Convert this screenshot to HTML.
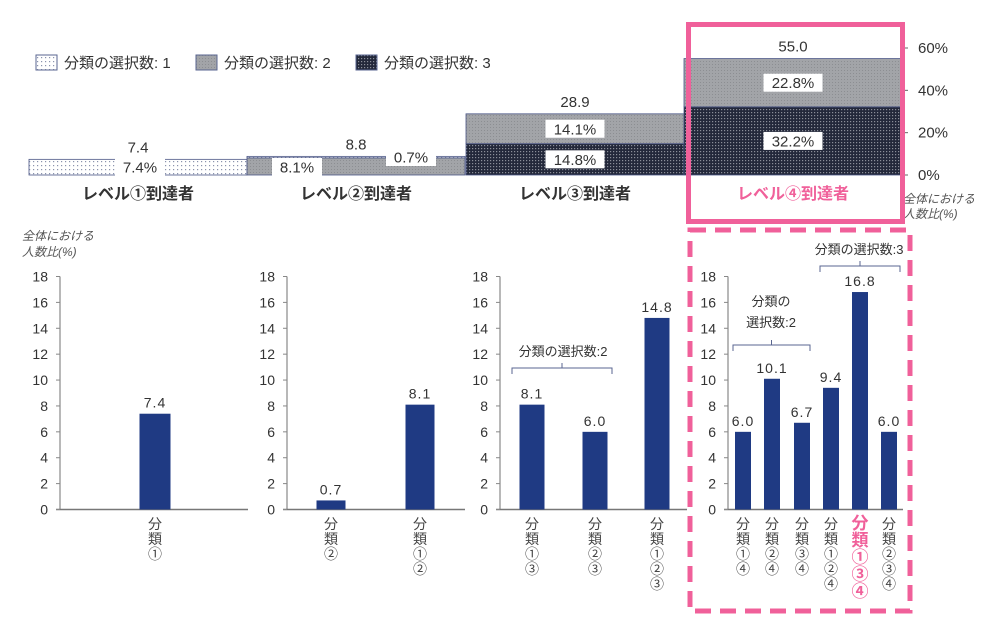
<!DOCTYPE html>
<html><head><meta charset="utf-8">
<style>
html,body{margin:0;padding:0;background:#fff;}
svg{display:block;font-family:"Liberation Sans","Noto Sans CJK JP",sans-serif;}
</style></head>
<body>
<svg id="c" width="989" height="643" viewBox="0 0 989 643" xmlns="http://www.w3.org/2000/svg">
<defs>
<pattern id="p1" width="4" height="4" patternUnits="userSpaceOnUse"><rect width="4" height="4" fill="#fff"/><rect x="1" y="1" width="1.2" height="1.2" fill="#8a93ad"/></pattern>
<pattern id="p2" width="3" height="3" patternUnits="userSpaceOnUse"><rect width="3" height="3" fill="#a2a4a8"/><rect x="1" y="1" width="1" height="1" fill="#8c8e92"/></pattern>
<pattern id="p3" width="3" height="3" patternUnits="userSpaceOnUse"><rect width="3" height="3" fill="#23283a"/><rect x="1" y="1" width="1.2" height="1.2" fill="#8a8e98"/></pattern>
</defs>
<g id="legend">
<rect x="36" y="55" width="21" height="15" fill="url(#p1)" stroke="#5a6690"/>
<text x="64" y="68" font-size="15" fill="#333">分類の選択数: 1</text>
<rect x="196" y="55" width="21" height="15" fill="url(#p2)" stroke="#5a6690"/>
<text x="224" y="68" font-size="15" fill="#333">分類の選択数: 2</text>
<rect x="356" y="55" width="21" height="15" fill="url(#p3)" stroke="#5a6690"/>
<text x="384" y="68" font-size="15" fill="#333">分類の選択数: 3</text>
</g>
<g id="top"></g>
<g id="bottom"></g>
<rect x="688.5" y="24.5" width="214" height="197" fill="none" stroke="#f0609a" stroke-width="5"/>
<rect x="690" y="230" width="220" height="381" fill="none" stroke="#f0609a" stroke-width="5" stroke-dasharray="16 9"/>
</svg>
<script>
const NS="http://www.w3.org/2000/svg";
function mk(parent,tag,attrs,text){const e=document.createElementNS(NS,tag);for(const k in attrs)e.setAttribute(k,attrs[k]);if(text!==undefined)e.textContent=text;parent.appendChild(e);return e;}

// ---- Top stacked chart data ----
const topLevels=["レベル①到達者","レベル②到達者","レベル③到達者","レベル④到達者"];
const topS1=[7.4,0.7,0,0];
const topS2=[0,8.1,14.1,22.8];
const topS3=[0,0,14.8,32.2];
const topTotals=["7.4","8.8","28.9","55.0"];
const topTicks=[0,20,40,60];

// ---- Bottom bar charts data ----
const p1Cats=[["分","類","①"]];const p1Vals=[7.4];
const p2Cats=[["分","類","②"],["分","類","①","②"]];const p2Vals=[0.7,8.1];
const p3Cats=[["分","類","①","③"],["分","類","②","③"],["分","類","①","②","③"]];const p3Vals=[8.1,6.0,14.8];
const p4Cats=[["分","類","①","④"],["分","類","②","④"],["分","類","③","④"],["分","類","①","②","④"],["分","類","①","③","④"],["分","類","②","③","④"]];
const p4Vals=[6.0,10.1,6.7,9.4,16.8,6.0];
const yTicks=[0,2,4,6,8,10,12,14,16,18];

// top chart
const T=document.getElementById('top');
const base=175,ppp=127/60;const ty=v=>base-v*ppp;
const colX=[29,247,466,684],colW=218;
const lbl=(x,y,t,name)=>{const w=t.length*9+14;mk(T,'rect',{x:x-w/2,y:y-9,width:w,height:18,fill:'#fff',});mk(T,'text',{x:x,y:y+5.5,'font-size':15,'text-anchor':'middle',fill:'#333',},t);};
for(let i=0;i<4;i++){
  const x=colX[i];let cum=0;
  const segs=[[topS3[i],'url(#p3)','s3'],[topS2[i],'url(#p2)','s2'],[topS1[i],'url(#p1)','s1']];
  const pos=[];
  segs.forEach(s=>{if(s[0]>0){const r=mk(T,'rect',{x:x,y:ty(cum+s[0]),width:colW,height:s[0]*ppp,fill:s[1],stroke:'#4a5585','stroke-width':0.8});
    
    
    pos.push([cum,s[0],s[2]]);}cum+=s[0];});
  mk(T,'text',{x:x+colW/2,y:ty(cum)-7,'font-size':15,'text-anchor':'middle',fill:'#333',},topTotals[i]);
  const t=mk(T,'text',{x:x+colW/2,y:199,'font-size':16,'font-weight':'bold','text-anchor':'middle',fill:i==3?'#f0609a':'#333'},topLevels[i]);
  
  
}
// percent labels
lbl(140,167,topS1[0].toFixed(1)+'%','pct-l1-s1');
lbl(297,167,topS2[1].toFixed(1)+'%','pct-l2-s2');
lbl(411,157,topS1[1].toFixed(1)+'%','pct-l2-s1');
lbl(575,ty(topS3[2]/2),topS3[2].toFixed(1)+'%','pct-l3-s3');
lbl(575,ty(topS3[2]+topS2[2]/2),topS2[2].toFixed(1)+'%','pct-l3-s2');
lbl(793,ty(topS3[3]/2),topS3[3].toFixed(1)+'%','pct-l4-s3');
lbl(793,ty(topS3[3]+topS2[3]/2),topS2[3].toFixed(1)+'%','pct-l4-s2');
mk(T,'line',{x1:903,y1:ty(60),x2:903,y2:base,stroke:'#666',});
topTicks.forEach(v=>{mk(T,'line',{x1:903,y1:ty(v),x2:908,y2:ty(v),stroke:'#666'});
  const e=mk(T,'text',{x:918,y:ty(v)+5,'font-size':15,fill:'#333'},v+'%');
  
  });
mk(T,'text',{x:903,y:203,'font-size':12,'font-style':'italic',fill:'#555',},'全体における');
mk(T,'text',{x:903,y:218,'font-size':12,'font-style':'italic',fill:'#555',},'人数比(%)');

// bottom charts
const B=document.getElementById('bottom');
const y0=509.5,ppu=233/18;const by=v=>y0-v*ppu;
const panels=[
 {ax:60,end:248,cx:[155],w:31,cats:p1Cats,vals:p1Vals},
 {ax:287,end:465,cx:[331,420],w:29,cats:p2Cats,vals:p2Vals},
 {ax:500,end:687,cx:[532,595,657],w:25,cats:p3Cats,vals:p3Vals},
 {ax:728,end:903,cx:[743,772,802,831,860,889],w:16,cats:p4Cats,vals:p4Vals,hi:4}
];
panels.forEach((p,pi)=>{
  const g=mk(B,'g',{});
  
  
  mk(g,'line',{x1:p.ax,y1:by(18),x2:p.ax,y2:y0,stroke:'#888','stroke-width':1.2,});
  mk(g,'line',{x1:p.ax-4,y1:y0,x2:p.end,y2:y0,stroke:'#777','stroke-width':1.4,});
  yTicks.forEach(v=>{mk(g,'line',{x1:p.ax-4,y1:by(v),x2:p.ax,y2:by(v),stroke:'#888'});
    const e=mk(g,'text',{x:p.ax-12,y:by(v)+5,'font-size':14,'text-anchor':'end',fill:'#333'},v);
    
    });
  p.vals.forEach((v,i)=>{
    const r=mk(g,'rect',{x:p.cx[i]-p.w/2,y:by(v),width:p.w,height:v*ppu,fill:'#1f3a83'});
    
    
    const t=mk(g,'text',{x:p.cx[i],y:by(v)-6,'font-size':14,'text-anchor':'middle',fill:'#333','letter-spacing':'1'},v.toFixed(1));
    
    
    const hi=p.hi===i;
    p.cats[i].forEach((ch,k)=>{
      const c=mk(g,'text',{x:p.cx[i],y:529+k*(hi?17:15),'font-size':hi?17:14,'font-weight':hi?'bold':'normal','text-anchor':'middle',fill:hi?'#f0609a':'#444'},ch);
      
      
    });
  });
});
mk(B,'text',{x:22,y:240,'font-size':12,'font-style':'italic',fill:'#555',},'全体における');
mk(B,'text',{x:22,y:256,'font-size':12,'font-style':'italic',fill:'#555',},'人数比(%)');
function bracket(x1,x2,y,name){
  mk(B,'path',{d:`M${x1} ${y+6}V${y}H${x2}V${y+6}M${(x1+x2)/2} ${y}V${y-5}`,fill:'none',stroke:'#5a6690','stroke-width':1,});
}
bracket(512,612,368,'bracket-p3-sel2');
mk(B,'text',{x:563,y:356,'font-size':13,'text-anchor':'middle',fill:'#333',},'分類の選択数:2');
bracket(733,810,345,'bracket-p4-sel2');
mk(B,'text',{x:771,y:306,'font-size':13,'text-anchor':'middle',fill:'#333',},'分類の');
mk(B,'text',{x:771,y:327,'font-size':13,'text-anchor':'middle',fill:'#333',},'選択数:2');
bracket(820,900,266,'bracket-p4-sel3');
mk(B,'text',{x:859,y:254,'font-size':13,'text-anchor':'middle',fill:'#333',},'分類の選択数:3');
</script>
</body></html>
